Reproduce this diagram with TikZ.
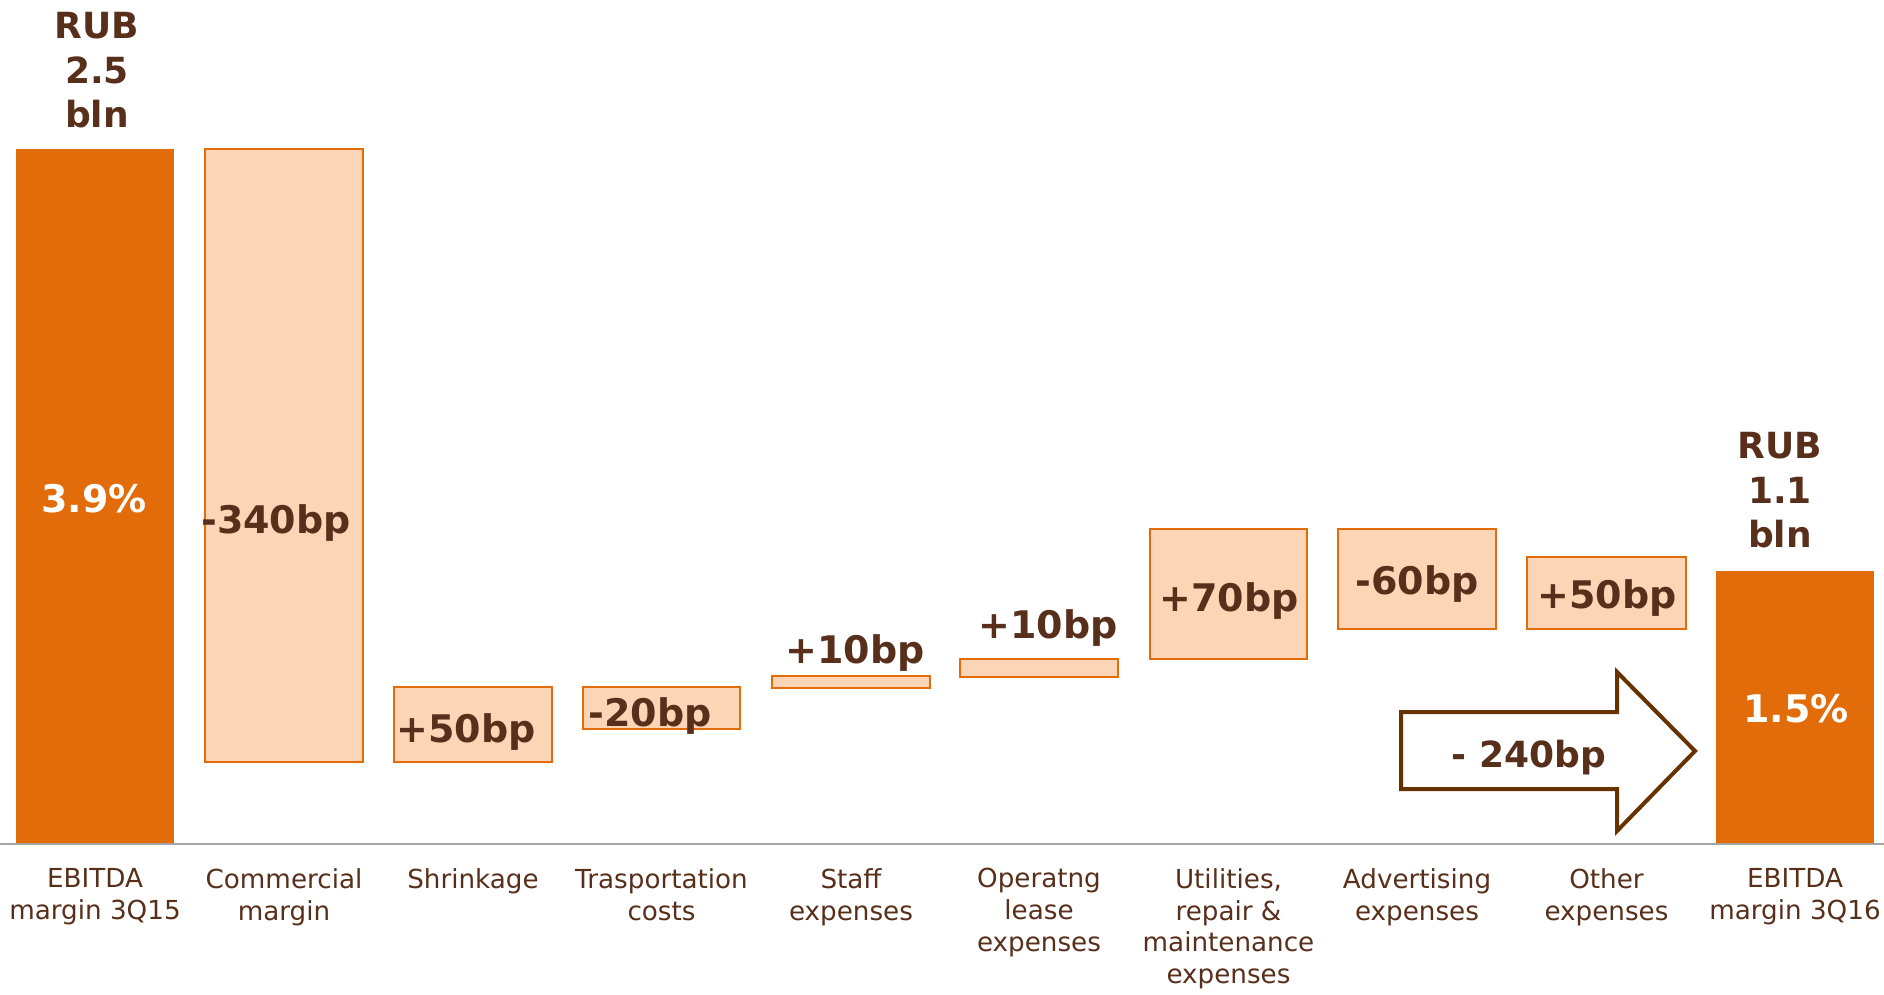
\documentclass[tikz,border=0pt]{standalone}
\usepackage{fontspec}
\setmainfont{DejaVu Sans}
\definecolor{dorange}{RGB}{227,108,10}
\definecolor{lorange}{RGB}{251,213,181}
\definecolor{tbrown}{RGB}{88,47,26}
\definecolor{abrown}{RGB}{102,51,0}
\definecolor{axisgray}{RGB}{165,165,165}
\tikzset{
  totbar/.style={fill=dorange},
  incbar/.style={fill=lorange, draw=dorange, line width=1pt},
  val/.style={font=\fontsize{19}{22}\selectfont\bfseries, text=tbrown, inner sep=0pt, anchor=base},
  wval/.style={val, text=white},
  rub/.style={font=\fontsize{18}{22.25}\selectfont\bfseries, text=tbrown, inner sep=0pt, anchor=north, align=center},
  lab/.style={font=\fontsize{13.1}{15.9}\selectfont, text=tbrown, inner sep=0pt, anchor=north, align=center},
  bigarrow/.style={draw=abrown, line width=2pt, fill=white, line join=miter}
}
\begin{document}
\begin{tikzpicture}[x=0.5pt, y=-0.5pt]
\useasboundingbox (0,0) rectangle (1884,995);
% bars
\fill[totbar] (16,149) rectangle (174,843);
\draw[incbar] (205,149) rectangle (363,762);
\draw[incbar] (394,687) rectangle (552,762);
\draw[incbar] (583,687) rectangle (740,729);
\draw[incbar] (772,676) rectangle (930,688);
\draw[incbar] (960,659) rectangle (1118,677);
\draw[incbar] (1150,529) rectangle (1307,659);
\draw[incbar] (1338,529) rectangle (1496,629);
\draw[incbar] (1527,557) rectangle (1686,629);
\fill[totbar] (1716,571) rectangle (1874,843);
% axis
\coordinate (axl) at (0,844);
\coordinate (axr) at (1884,844);
\draw[axisgray, line width=1.2pt] (axl) -- (axr);
% big arrow
\draw[bigarrow] (1401,712) -- (1617,712) -- (1617,672) -- (1695,751) -- (1617,831) -- (1617,789) -- (1401,789) -- cycle;
\node[val, font=\fontsize{18}{22}\selectfont\bfseries] (arr) at (1529,767) {- 240bp};
% values
\node[wval] (v1) at (94,512) {3.9\%};
\node[val] (v2) at (276,533) {-340bp};
\node[val] (v3) at (466,742) {+50bp};
\node[val] (v4) at (650,726) {-20bp};
\node[val] (v5) at (855,663) {+10bp};
\node[val] (v6) at (1048,638) {+10bp};
\node[val] (v7) at (1229,611) {+70bp};
\node[val] (v8) at (1417,594) {-60bp};
\node[val] (v9) at (1607,608) {+50bp};
\node[wval] (v10) at (1796,722) {1.5\%};
% RUB labels
\node[rub] (rub1) at (97,12) {RUB\\2.5\\bln};
\node[rub] (rub2) at (1780,432) {RUB\\1.1\\bln};
% category labels
\node[lab] (l1) at (95,868) {EBITDA\\margin 3Q15};
\node[lab] (l2) at (284,868) {Commercial\\margin};
\node[lab] (l3) at (473,868) {Shrinkage};
\node[lab] (l4) at (661.5,868) {Trasportation\\costs};
\node[lab] (l5) at (851,868) {Staff\\expenses};
\node[lab] (l6) at (1039,868) {Operatng\\lease\\expenses};
\node[lab] (l7) at (1228.5,868) {Utilities,\\repair \&\\maintenance\\expenses};
\node[lab] (l8) at (1417,868) {Advertising\\expenses};
\node[lab] (l9) at (1606.5,868) {Other\\expenses};
\node[lab] (l10) at (1795,868) {EBITDA\\margin 3Q16};
\end{tikzpicture}
\end{document}
